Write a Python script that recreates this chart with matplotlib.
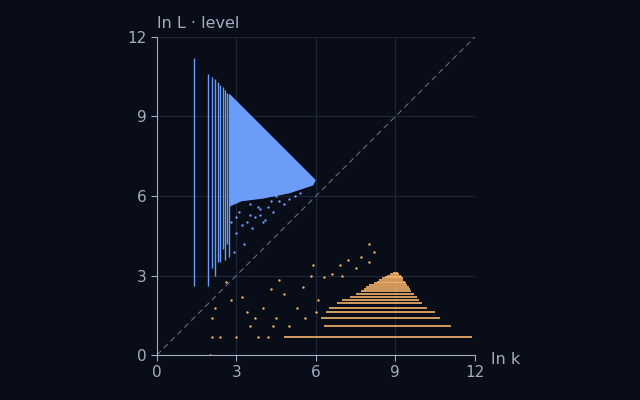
import matplotlib
matplotlib.use("Agg")
import matplotlib.pyplot as plt

BG = "#080d18"; BLUE = "#6b9cf7"; ORANGE = "#f7b56b"; TXT = "#a3adbf"

# blue columns: ln k, low, high
col_x = [1.39, 1.95, 2.08, 2.20, 2.30, 2.40, 2.48, 2.56, 2.64, 2.71]
col_lo = [2.6, 2.6, 3.3, 3.0, 3.5, 3.5, 4.0, 3.6, 4.2, 3.7]
col_hi = [11.2, 10.6, 10.5, 10.4, 10.3, 10.2, 10.1, 10.0, 9.9, 9.85]
# dense blue region outline
dense_x = [2.75, 6.0, 5.9, 5.0, 4.0, 3.2, 2.75]
dense_y = [9.85, 6.6, 6.4, 6.1, 5.9, 5.8, 5.6]
# sparse blue points
bpx = [3.0, 3.2, 3.4, 3.5, 3.7, 3.9, 4.0, 4.2, 4.4, 4.6, 4.8, 5.0, 5.2, 3.1, 3.3, 3.6, 3.8, 4.1, 4.3, 2.9, 3.0, 3.5, 3.9, 4.5, 4.9, 5.4, 2.8]
bpy = [4.6, 4.9, 5.0, 5.3, 5.2, 5.5, 5.0, 5.6, 5.4, 5.8, 5.7, 5.9, 6.0, 5.4, 4.2, 4.8, 5.6, 5.1, 5.8, 3.9, 5.2, 5.7, 5.3, 6.0, 6.2, 6.1, 5.0]

# orange rows: ln level, dense start, end
row_y = [0.69, 1.10, 1.39, 1.61, 1.79, 1.95, 2.08, 2.20, 2.30, 2.40, 2.48, 2.56, 2.64, 2.71, 2.77, 2.83, 2.89, 2.94, 3.00, 3.04, 3.09]
row_s = [4.8, 6.3, 6.2, 6.4, 6.5, 6.8, 7.0, 7.3, 7.5, 7.7, 7.8, 7.9, 8.0, 8.2, 8.3, 8.4, 8.5, 8.6, 8.7, 8.8, 8.9]
row_e = [11.9, 11.1, 10.7, 10.5, 10.2, 10.0, 9.9, 9.8, 9.7, 9.6, 9.55, 9.5, 9.45, 9.4, 9.35, 9.3, 9.3, 9.25, 9.2, 9.15, 9.1]
# sparse orange points
opx = [2.1, 2.1, 2.2, 2.4, 2.8, 3.0, 3.2, 3.5, 3.8, 4.0, 4.3, 4.5, 4.8, 5.0, 5.3, 5.5, 5.8, 6.0, 6.3, 6.6, 6.9, 7.2, 7.5, 7.7, 8.0, 8.2, 8.0, 3.4, 2.6, 4.6, 5.9, 7.0, 2.0, 4.2, 4.4, 5.6, 6.1, 3.7]
opy = [0.69, 1.39, 1.79, 0.69, 2.08, 0.69, 2.20, 1.10, 0.69, 1.79, 2.48, 1.39, 2.30, 1.10, 1.79, 2.56, 3.0, 1.61, 2.94, 3.04, 3.4, 3.6, 3.3, 3.7, 3.5, 3.9, 4.2, 1.61, 2.77, 2.83, 3.4, 3.0, 0.0, 0.69, 1.10, 1.39, 2.08, 1.39]

fig = plt.figure(figsize=(6.4, 4), dpi=100, facecolor=BG)
ax = fig.add_axes([0.245, 0.1125, 0.497, 0.795], facecolor=BG)
ax.grid(True, color="#1e2638", lw=0.8)
ax.set_axisbelow(True)
ax.plot([0, 12], [0, 12], ls=(0, (6, 4)), color="#6f7890", lw=0.7)
ax.fill(dense_x, dense_y, color=BLUE, lw=0)
ax.vlines(col_x, col_lo, col_hi, color=BLUE, lw=1.0)
ax.scatter(bpx, bpy, s=3, color=BLUE, lw=0)
ax.hlines(row_y, row_s, row_e, color=ORANGE, lw=1.2)
ax.scatter(opx, opy, s=3, color=ORANGE, lw=0)
ax.set_xlim(0, 12); ax.set_ylim(0, 12)
ax.set_xticks([0, 3, 6, 9, 12]); ax.set_yticks([0, 3, 6, 9, 12])
ax.tick_params(colors=TXT, labelsize=11, length=4)
for s in ["top", "right"]:
    ax.spines[s].set_visible(False)
for s in ["left", "bottom"]:
    ax.spines[s].set_color(TXT)
fig.text(0.245, 0.93, "ln L · level", color=TXT, fontsize=11.5, ha="left")
fig.text(0.767, 0.09, "ln k", color=TXT, fontsize=11.5, ha="left")
fig.savefig("out.png", facecolor=BG)
